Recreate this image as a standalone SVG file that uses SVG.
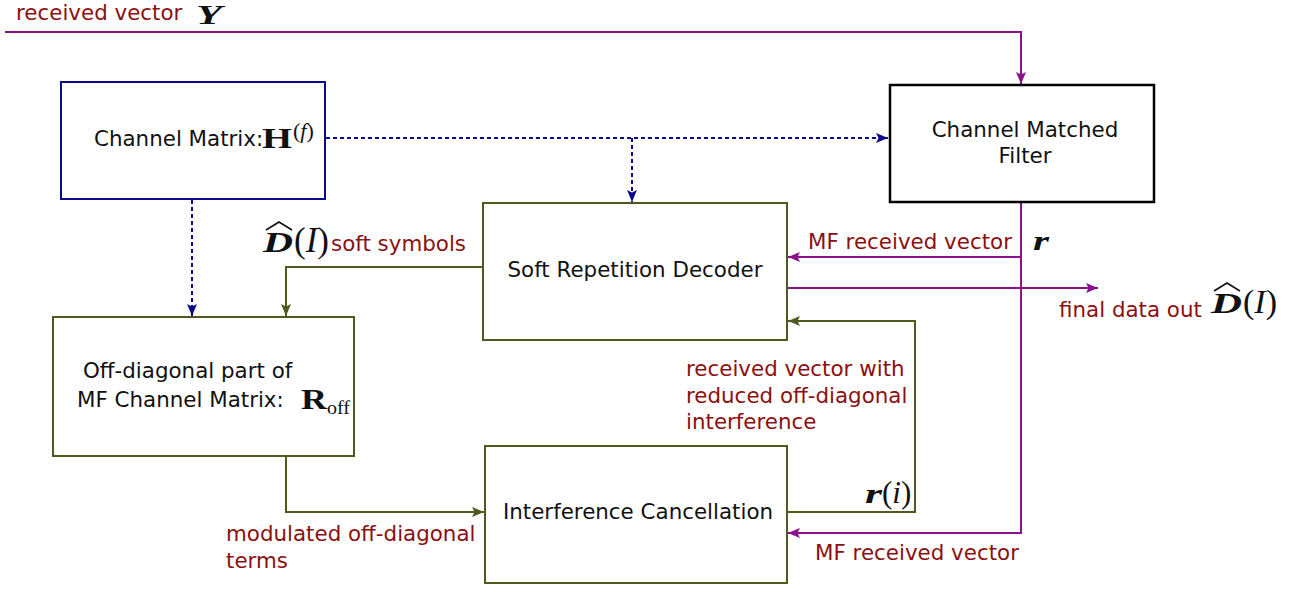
<svg xmlns="http://www.w3.org/2000/svg" width="1308" height="592" viewBox="0 0 1308 592">
<style>
.lbl{font-family:"DejaVu Sans",Verdana,sans-serif;font-size:21.4px;fill:#111}
.red{font-family:"DejaVu Sans",Verdana,sans-serif;font-size:21.4px;fill:#8b1010}
.math{font-family:"Liberation Serif","DejaVu Serif",serif;fill:#111}
.mbi{font-family:"Liberation Serif","DejaVu Serif",serif;font-style:italic;font-weight:bold;fill:#111}
.hat{fill:none;stroke:#111;stroke-width:1.6}
.pur{stroke:#8b108b;stroke-width:2;fill:none}
.olv{stroke:#4f5a1e;stroke-width:2;fill:none}
.nav{stroke:#0a0a8a;stroke-width:2;fill:none;stroke-dasharray:4,3}
</style>
<defs>
<marker id="ap" markerWidth="12" markerHeight="10" refX="12" refY="5" orient="auto" markerUnits="userSpaceOnUse"><path d="M0,0 L12,5 L0,10 L2.5,5 z" fill="#8b108b"/></marker>
<marker id="ao" markerWidth="12" markerHeight="10" refX="12" refY="5" orient="auto" markerUnits="userSpaceOnUse"><path d="M0,0 L12,5 L0,10 L2.5,5 z" fill="#4f5a1e"/></marker>
<marker id="an" markerWidth="12" markerHeight="10" refX="12" refY="5" orient="auto" markerUnits="userSpaceOnUse"><path d="M0,0 L12,5 L0,10 L2.5,5 z" fill="#0a0a8a"/></marker>
</defs>

<g id="connectors">
<path class="pur" d="M5,32 H1021 V84" marker-end="url(#ap)"/>
<path class="nav" d="M326,138 H888" marker-end="url(#an)"/>
<path class="nav" d="M632,138 V202" marker-end="url(#an)"/>
<path class="nav" d="M192,200 V316" marker-end="url(#an)"/>
<path class="olv" d="M483,267 H286 V316" marker-end="url(#ao)"/>
<path class="olv" d="M286,457 V512 H484" marker-end="url(#ao)"/>
<path class="olv" d="M788,512 H915 V321 H788" marker-end="url(#ao)"/>
<path class="pur" d="M1021,203 V533 H788" marker-end="url(#ap)"/>
<path class="pur" d="M1021,257 H788" marker-end="url(#ap)"/>
<path class="pur" d="M788,288 H1098" marker-end="url(#ap)"/>
</g>

<g id="label-y">
<text class="red" x="16" y="20">received vector</text>
<text class="mbi" x="196" y="24" font-size="27" textLength="26" lengthAdjust="spacingAndGlyphs">Y</text>
</g>

<g id="channel-matrix">
<rect x="61" y="82" width="264" height="117" fill="#fff" stroke="#0a0a8a" stroke-width="2"/>
<text class="lbl" x="94" y="146">Channel Matrix:</text>
<text class="math" x="262" y="148" font-size="29" font-weight="bold" textLength="30" lengthAdjust="spacingAndGlyphs">H</text>
<text class="math" x="293" y="138" font-size="22">(<tspan font-style="italic">f</tspan>)</text>
</g>

<g id="matched-filter">
<rect x="890" y="85" width="264" height="117" fill="#fff" stroke="#000" stroke-width="2.5"/>
<text class="lbl" x="1025" y="137" text-anchor="middle">Channel Matched</text>
<text class="lbl" x="1025" y="163" text-anchor="middle">Filter</text>
</g>

<g id="soft-decoder">
<rect x="483" y="203" width="304" height="137" fill="#fff" stroke="#4f5a1e" stroke-width="2"/>
<text class="lbl" x="635" y="277" text-anchor="middle">Soft Repetition Decoder</text>
</g>

<g id="off-diagonal">
<rect x="53" y="317" width="301" height="139" fill="#fff" stroke="#4f5a1e" stroke-width="2"/>
<text class="lbl" x="83" y="378">Off-diagonal part of</text>
<text class="lbl" x="77" y="407">MF Channel Matrix:</text>
<text class="math" x="301" y="409" font-size="29" font-weight="bold" textLength="26" lengthAdjust="spacingAndGlyphs">R</text>
<text class="math" x="327" y="414" font-size="19" textLength="23" lengthAdjust="spacingAndGlyphs">off</text>
</g>

<g id="interference-cancel">
<rect x="485" y="446" width="302" height="137" fill="#fff" stroke="#4f5a1e" stroke-width="2"/>
<text class="lbl" x="638" y="519" text-anchor="middle">Interference Cancellation</text>
</g>

<g id="labels">
<text class="mbi" x="263" y="252" font-size="30" textLength="30" lengthAdjust="spacingAndGlyphs">D</text>
<path class="hat" d="M266,230 L279,222 L292,230"/>
<text class="math" x="294" y="252" font-size="35">(<tspan font-style="italic">I</tspan>)</text>
<text class="red" x="331" y="251">soft symbols</text>

<text class="red" x="808" y="249">MF received vector</text>
<text class="mbi" x="1033" y="250" font-size="28" textLength="16" lengthAdjust="spacingAndGlyphs">r</text>

<text class="red" x="1059" y="317">final data out</text>
<text class="mbi" x="1211" y="313" font-size="30" textLength="31" lengthAdjust="spacingAndGlyphs">D</text>
<path class="hat" d="M1214,291 L1227,283 L1240,291"/>
<text class="math" x="1243" y="313" font-size="34">(<tspan font-style="italic">I</tspan>)</text>

<text class="red" x="686" y="376">received vector with</text>
<text class="red" x="686" y="403">reduced off-diagonal</text>
<text class="red" x="686" y="429">interference</text>

<text class="mbi" x="865" y="503" font-size="28" textLength="17" lengthAdjust="spacingAndGlyphs">r</text>
<text class="math" x="882" y="503" font-size="31">(<tspan font-style="italic">i</tspan>)</text>

<text class="red" x="815" y="560">MF received vector</text>

<text class="red" x="226" y="541">modulated off-diagonal</text>
<text class="red" x="226" y="568">terms</text>
</g>
</svg>
